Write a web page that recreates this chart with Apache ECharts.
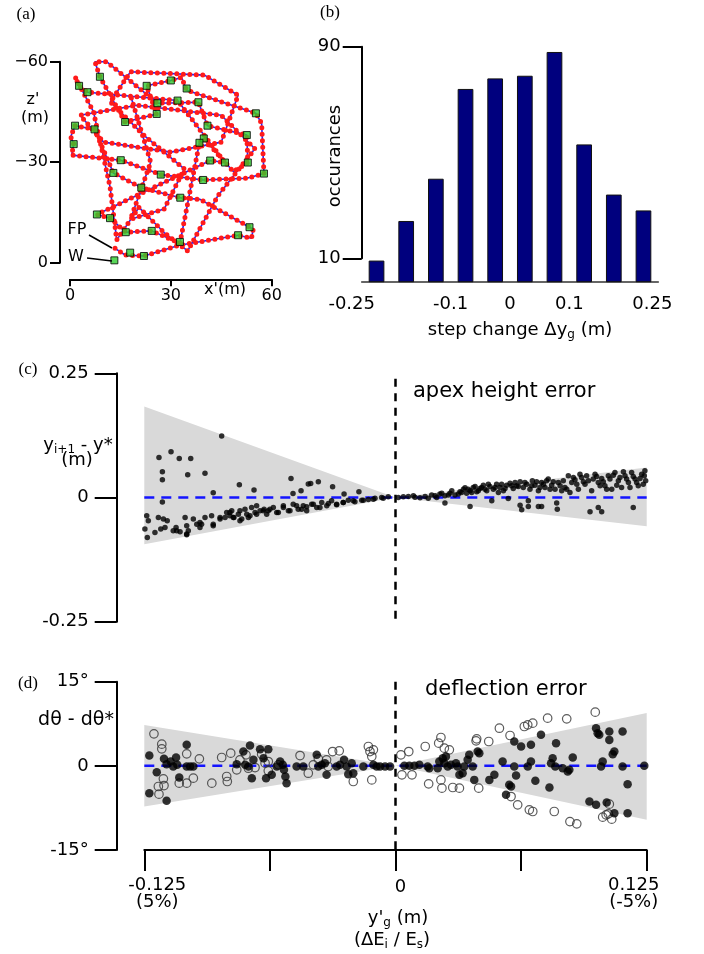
<!DOCTYPE html>
<html><head><meta charset="utf-8">
<script src="https://cdn.jsdelivr.net/npm/echarts@6/dist/echarts.min.js"></script>
<style>html,body{margin:0;padding:0;background:#fff}#c{width:704px;height:954px}</style>
</head><body><div id="c"></div><script>
// ---------- Panel (a): trajectory (x' m, z' m) ----------
const trajectory = [[13.4,-4.3],[16.4,-2.3],[22.0,-2.0],[32.5,-5.2],[50.0,-8.2],[54.0,-7.3],[54.5,-10.0],[53.4,-10.6],[38.7,-18.9],[32.8,-19.4],[21.2,-22.4],[12.9,-26.8],[7.3,-39.8],[1.5,-40.9],[0.2,-37.6],[1.1,-35.4],[0.5,-32.1],[15.1,-30.6],[27.0,-26.3],[39.6,-24.7],[52.6,-25.2],[57.7,-26.6],[57.0,-41.6],[55.3,-44.6],[34.7,-51.5],[33.2,-55.3],[30.0,-54.4],[22.8,-52.8],[25.8,-44.4],[16.4,-42.0],[8.9,-55.5],[7.4,-60.0],[10.9,-60.0],[26.0,-47.6],[38.2,-47.9],[40.9,-40.9],[52.6,-38.1],[52.9,-29.9],[48.6,-27.2],[39.8,-37.1],[38.5,-35.8],[32.7,-5.8],[24.3,-9.5],[16.6,-9.1],[11.9,-13.3],[8.0,-14.4],[41.7,-30.5],[46.1,-29.9],[32.0,-48.4],[5.2,-50.9],[2.7,-52.8],[1.5,-55.5],[7.0,-45.0],[11.9,-22.7],[13.9,-6.8],[20.5,-16.5],[28.0,-9.0],[35.0,-3.5],[44.0,-20.0],[55.0,-34.0],[45.0,-44.0],[20.0,-47.0],[3.0,-44.0],[10.0,-36.0],[30.0,-33.0],[45.0,-36.0],[50.0,-50.0],[40.0,-56.0],[18.0,-57.0],[12.0,-48.0],[22.0,-38.0],[34.0,-28.0],[28.0,-16.0],[18.0,-13.0],[24.0,-30.0],[18.0,-50.0]];
const waypoints = [[8.9,-55.5],[2.7,-52.8],[5.2,-50.9],[22.8,-52.8],[30.0,-54.4],[34.7,-52.0],[32.0,-48.4],[26.0,-47.6],[38.2,-47.9],[25.8,-44.4],[55.3,-44.6],[16.4,-42.0],[1.5,-40.9],[7.3,-39.8],[40.9,-40.9],[52.6,-38.1],[39.8,-37.1],[38.5,-35.8],[1.1,-35.4],[41.7,-30.5],[46.1,-29.9],[15.1,-30.6],[52.9,-29.9],[12.9,-26.8],[27.0,-26.3],[57.7,-26.6],[39.6,-24.7],[21.2,-22.4],[32.8,-19.4],[8.0,-14.4],[11.9,-13.3],[53.4,-10.6],[16.6,-9.1],[24.3,-9.5],[50.0,-8.2],[32.7,-6.2],[17.9,-3.0],[22.0,-2.0],[13.2,-0.7]];
const fpArrow = [[5.65,-8.27],[12.49,-4.39]];
const wArrow = [[5.06,-1.40],[12.49,-0.51]];

// ---------- Panel (b): histogram ----------
const binCenters = [-0.225,-0.175,-0.125,-0.075,-0.025,0.025,0.075,0.125,0.175,0.225];
const counts = [9,24,40,74,78,79,88,53,34,28];
const histTicks = [-0.25,-0.1,0,0.1,0.25];

// ---------- Panel (c): apex height error ----------
const fanC = [[-0.125,0.183],[0,0],[0.125,0.0604],[0.125,-0.058],[0,0],[-0.125,-0.094]];
const apexLeftUpper = [[-0.0865,0.124],[-0.1177,0.0805],[-0.1117,0.092],[-0.1076,0.0785],[-0.1019,0.0785],[-0.116,0.052],[-0.116,0.0356],[-0.1034,0.0457],[-0.0948,0.049],[-0.0777,0.0256],[-0.0704,0.0149],[-0.0907,0.0095],[-0.116,-0.0093],[-0.052,0.038],[-0.047,0.0135],[-0.0434,0.027],[-0.0422,0.028],[-0.0384,0.0316],[-0.0313,0.0215],[-0.0182,0.0115],[-0.051,0.008],[-0.0256,0.007]];
const apexLeftLower = [[-0.1238,-0.0368],[-0.123,-0.0469],[-0.1247,-0.0636],[-0.1235,-0.0805],[-0.1197,-0.0704],[-0.118,-0.0403],[-0.1155,-0.0435],[-0.1136,-0.0469],[-0.1147,-0.0604],[-0.1168,-0.0636],[-0.1106,-0.067],[-0.1092,-0.0604],[-0.1072,-0.069],[-0.1047,-0.0403],[-0.1039,-0.057],[-0.1031,-0.067],[-0.1039,-0.075],[-0.1006,-0.0435],[-0.0989,-0.0536],[-0.0973,-0.0604],[-0.0948,-0.0403],[-0.0965,-0.0536],[-0.0915,-0.0368],[-0.0907,-0.057],[-0.0873,-0.0435],[-0.0848,-0.0403],[-0.084,-0.0302],[-0.0824,-0.0368],[-0.0815,-0.0268],[-0.0804,-0.0403],[-0.0782,-0.0335],[-0.0774,-0.0268],[-0.0765,-0.0435],[-0.0749,-0.0234],[-0.074,-0.0335],[-0.0724,-0.0368],[-0.0716,-0.0201],[-0.0699,-0.0302],[-0.0691,-0.0167],[-0.0674,-0.0268],[-0.0654,-0.0234],[-0.0641,-0.0335],
[-0.1039,-0.0737],[-0.1089,-0.067],[-0.0973,-0.0503],[-0.0907,-0.0536],[-0.0873,-0.0403],
[-0.0824,-0.0302],[-0.0807,-0.0403],[-0.0774,-0.0469],[-0.0732,-0.0403],[-0.0691,-0.0335],[-0.0658,-0.0268],[-0.0625,-0.0234],[-0.0591,-0.0302],[-0.0558,-0.0201],[-0.0525,-0.0268],[-0.0492,-0.0167],[-0.0467,-0.0234],[-0.0442,-0.0187],[-0.0409,-0.0134],[-0.0376,-0.0201],[-0.0334,-0.012],[-0.0293,-0.0147],[-0.026,-0.0101],[-0.021,-0.0067],[-0.016,-0.0053],[-0.011,-0.0033],[-0.0061,-0.0013],
[-0.0633,-0.0268],[-0.0608,-0.0201],[-0.0583,-0.0302],[-0.0558,-0.0167],[-0.0533,-0.0268],[-0.0509,-0.0134],[-0.0484,-0.0234],[-0.0459,-0.0167],[-0.0442,-0.0268],[-0.0417,-0.0134],[-0.0392,-0.0201],[-0.0367,-0.0101],[-0.0342,-0.0167],[-0.0318,-0.0067],[-0.0293,-0.0134],[-0.026,-0.0101],[-0.0235,-0.0053],[-0.0202,-0.0087],[-0.0168,-0.0053],[-0.0135,-0.004],[-0.0102,-0.0013],[-0.0069,0],[-0.0036,0.0013]];
const apexRight = [[0.0014,0.0001],[0.0039,0.0014],[0.0064,0.0021],[0.0089,0.0034],[0.0147,0.0021],[0.0163,-0.0013],[0.018,0.0048],[0.0205,0.0001],[0.0221,0.0068],[0.0246,0.0034],[0.0271,0.0088],[0.0296,0.0048],[0.0321,0.0115],[0.0338,0.0168],[0.0354,0.0088],[0.0371,0.0135],[0.0387,0.0202],[0.0404,0.0115],[0.042,0.0182],[0.0437,0.0249],[0.0454,0.0135],[0.047,0.0222],[0.0487,0.0168],[0.0503,0.0269],[0.052,0.0202],[0.0537,0.0135],[0.0553,0.0249],[0.057,0.0289],[0.0586,0.0182],[0.0603,0.0236],[0.062,0.0316],[0.0636,0.0202],[0.0653,0.0269],[0.0669,0.0168],[0.0681,0.0336],[0.0694,0.0249],[0.0711,0.0135],[0.0727,0.0303],[0.0744,0.0202],[0.076,0.037],[0.0777,0.0249],[0.0794,0.0168],[0.081,0.0303],[0.0827,0.0135],[0.0843,0.0202],[0.086,0.0437],[0.0877,0.0303],[0.0893,0.0356],[0.091,0.0168],[0.0926,0.0403],[0.0943,0.0269],[0.096,0.0336],[0.0976,0.0135],[0.0993,0.047],[0.1009,0.0303],[0.1026,0.0383],[0.1042,0.0236],[0.1059,0.0437],[0.1076,0.0168],[0.1092,0.0504],[0.1109,0.0336],[0.1125,0.0202],[0.1142,0.0437],[0.1159,0.0303],[0.1175,0.0504],[0.1192,0.037],[0.1208,0.0236],[0.1225,0.047],[0.1241,0.0537],[0.1245,0.0336],[0.1233,0.0269],
[0.0097,0.0007],[0.0122,-0.0006],[0.0197,0.0034],[0.023,0.0088],[0.0263,0.0048],[0.028,0.0135],[0.0313,0.0068],[0.0329,0.0101],[0.0346,0.0195],[0.0362,0.0168],[0.0379,0.0101],[0.0396,0.0222],[0.0412,0.0135],[0.0429,0.0202],[0.0445,0.0168],[0.0462,0.0269],[0.0495,0.0202],[0.0512,0.0101],[0.0528,0.0269],[0.0545,0.0182],[0.0578,0.0236],[0.0595,0.0303],[0.0611,0.0222],[0.0644,0.0303],[0.0678,0.0236],[0.0702,0.0316],[0.0719,0.0202],[0.0736,0.0269],[0.0752,0.0336],[0.0769,0.0168],[0.0785,0.0316],[0.0819,0.0236],[0.0835,0.0336],[0.0852,0.0168],[0.0885,0.0403],[0.0902,0.0269],[0.0918,0.047],[0.0935,0.0316],[0.0951,0.0437],[0.0984,0.037],[0.1001,0.0423],[0.1018,0.0236],[0.1034,0.0316],[0.1051,0.0168],[0.1067,0.037],[0.1084,0.045],[0.1101,0.0249],[0.1117,0.0403],[0.1134,0.0517],[0.115,0.037],[0.1167,0.0202],[0.1183,0.0423],[0.12,0.0303],[0.1217,0.0383],[0.1238,0.0437],
[0.0246,-0.0113],[0.0371,-0.018],[0.0479,-0.0066],[0.062,-0.0154],[0.0628,-0.0248],[0.0661,-0.018],[0.0711,-0.018],[0.0727,-0.018],[0.0802,-0.0113],[0.0805,-0.0234],[0.0968,-0.0288],[0.1009,-0.0201],[0.1026,-0.0288],[0.1183,-0.0201],[0.0561,-0.002],[0.0661,-0.0066],[0.0868,0.0101]];

// ---------- Panel (d): deflection error (degrees) ----------
const fanD = [[-0.125,7.3],[0,0],[0.125,9.4],[0.125,-9.6],[0,0],[-0.125,-7.25]];
const deflFilled = [[-0.1225,1.84],[-0.1225,-4.87],[-0.1188,-1.13],[-0.1139,-6.24],[-0.1152,1.25],[-0.1139,0.30],[-0.1119,0.77],[-0.1106,-0.12],[-0.1092,1.49],[-0.1086,0.18],[-0.1039,3.74],[-0.1076,-2.08],[-0.1039,-0.12],[-0.1022,-0.12],[-0.1006,-0.12],[-0.0757,2.55],[-0.0724,3.62],[-0.0707,1.07],[-0.079,0.30],[-0.0748,0.18],[-0.0732,-0.12],[-0.0715,-2.20],[-0.0674,2.97],[-0.0633,2.97],[-0.0657,1.37],[-0.0644,-2.20],[-0.0616,-1.60],[-0.0574,0.77],[-0.0561,0.18],[-0.0555,-0.71],[-0.0548,-1.90],[-0.0542,-3.09],[-0.0591,-0.12],[-0.0492,-0.12],[-0.0459,-0.12],[-0.0392,1.96],[-0.0384,-0.12],[-0.0367,0.18],[-0.0351,0.48],[-0.0343,-1.60],[-0.0293,-0.12],[-0.0276,0.18],[-0.0256,1.07],[-0.0243,-0.12],[-0.0235,-1.49],[-0.0218,0.48],[-0.021,-1.31],[-0.016,-0.12],[-0.011,0.18],[-0.0094,-0.12],[-0.0077,-0.12],[-0.0052,-0.12],[-0.0027,-0.12],
[0.0044,0],[0.0069,0],[0.0094,0],[0.0119,0.18],[0.016,-0.12],[0.0168,-0.42],[0.021,-0.42],[0.0218,0.77],[0.0235,1.37],[0.0243,0.48],[0.0251,1.66],[0.026,-0.12],[0.0276,0.18],[0.0301,0.48],[0.0309,-0.12],[0.0318,-1.60],[0.0334,-1.31],[0.0342,-0.12],[0.0359,1.07],[0.0367,1.96],[0.0384,-0.12],[0.0392,-2.50],[0.0409,2.55],[0.0417,2.26],[0.0467,-2.50],[0.0492,-1.60],[0.0533,0.77],[0.055,-5.17],[0.0566,-3.39],[0.0575,-3.68],[0.0591,4.34],[0.0591,-0.12],[0.06,-1.72],[0.0625,3.45],[0.0658,-0.12],[0.0674,3.74],[0.0674,0.77],[0.0696,-2.67],[0.0724,5.53],[0.0766,-3.86],[0.0774,0.48],[0.0782,1.37],[0.0795,-0.12],[0.0799,4.04],[0.0832,-0.42],[0.0857,-1.01],[0.0865,-0.71],[0.0882,1.49],[0.0965,-6.36],[0.0998,-6.95],[0.0998,6.71],[0.1006,5.82],[0.1014,5.53],[0.1023,-0.12],[0.1031,0.77],[0.1064,6.12],[0.1064,4.63],[0.1081,2.08],[0.1089,2.55],[0.113,6.12],[0.113,-0.12],[0.1155,-3.27],[0.1238,0],[0.1051,-6.54],[0.1089,-8.44],[0.1155,-8.44]];
const deflOpen = [[-0.1202,5.70],[-0.1163,3.86],[-0.1163,3.03],[-0.1155,-2.32],[-0.118,-3.68],[-0.1152,-3.51],[-0.1177,-5.05],[-0.1076,-3.09],[-0.1039,-3.09],[-0.1006,-2.20],[-0.1039,2.14],[-0.0976,1.25],[-0.0914,-3.09],[-0.0865,1.49],[-0.082,2.26],[-0.084,-1.90],[-0.0837,-2.79],[-0.079,-0.71],[-0.0774,1.07],[-0.0744,1.96],[-0.0732,-0.42],[-0.0699,-0.30],[-0.0666,2.08],[-0.0649,0.48],[-0.0633,0.77],[-0.0633,-0.89],[-0.0583,0.18],[-0.0475,1.84],[-0.0434,-1.31],[-0.0409,0.18],[-0.0384,1.25],[-0.0343,1.07],[-0.0313,2.55],[-0.028,2.67],[-0.0335,-0.12],[-0.021,-2.79],[-0.0135,3.45],[-0.0127,2.55],[-0.011,2.85],[-0.0118,-2.50],[-0.0118,1.66],
[0.0027,1.96],[0.0066,2.55],[0.0032,-1.60],[0.0082,-1.60],[0.0148,3.45],[0.0165,-3.21],[0.0226,5.05],[0.0215,4.04],[0.0243,3.15],[0.0268,2.85],[0.0226,-2.50],[0.0231,-3.98],[0.0285,-3.86],[0.0318,-3.98],[0.0404,4.81],[0.0401,4.46],[0.0464,4.34],[0.0414,-3.98],[0.0517,6.71],[0.057,5.41],[0.0575,-5.47],[0.0608,-6.95],[0.0641,7.01],[0.0658,7.31],[0.0683,7.61],[0.0757,8.50],[0.0852,8.38],[0.0994,9.57],[0.0666,-7.84],[0.0683,-8.14],[0.079,-8.14],[0.1064,-6.83],[0.1048,-8.73],[0.0868,-9.93],[0.0902,-10.34],[0.1031,-9.14],[0.1059,-8.56],[0.1076,-9.5]];

const zeroRef = [[-0.125,0],[0.125,0]];
const vLineC = [[0,0.239],[0,-0.25]];
const vLineD = [[0,15],[0,-15]];

// ---------- chart ----------
const F = 'DejaVu Sans';
const SERIF = 'Liberation Serif';
const blk = {color:'#000', width:2};
const chart = echarts.init(document.getElementById('c'));
const subRich = {sub:{fontSize:12, fontFamily:F, fill:'#000', color:'#000', padding:[9,0,0,0], verticalAlign:'bottom'}};
function txt(text, x, y, size, extra){
  return {type:'text', x:x, y:y, z:100, style:Object.assign({text:text, fontSize:size, fontFamily:F, fill:'#000', align:'center', verticalAlign:'middle'}, extra||{})};
}
const fanRender = pts => (params, api) => ({type:'polygon', shape:{points:pts.map(p => api.coord(p))}, style:{fill:'#d9d9d9'}});

const option = {
  animation:false,
  backgroundColor:'#fff',
  grid:[
    {left:70, top:61.7, width:201.7, height:201, outerBoundsMode:'none'},
    {left:361.7, top:46.7, width:296.6, height:235, outerBoundsMode:'none'},
    {left:361.7, top:46.7, width:296.6, height:211.6, outerBoundsMode:'none'},
    {left:144.3, top:373.3, width:502.4, height:248.4, outerBoundsMode:'none'},
    {left:144.3, top:681.7, width:502.4, height:168.3, outerBoundsMode:'none'}
  ],
  xAxis:[
    {gridIndex:0, type:'value', min:0, max:60, interval:30, position:'bottom', offset:16.6,
      axisLine:{show:true, onZero:false, lineStyle:blk}, axisTick:{show:true, length:7, lineStyle:blk},
      axisLabel:{fontSize:16, fontFamily:F, color:'#000', margin:9, showMinLabel:true, showMaxLabel:true}, splitLine:{show:false}},
    {gridIndex:1, type:'value', min:-0.25, max:0.25, position:'bottom',
      axisLine:{show:true, onZero:false, lineStyle:{color:'#333', width:1.5}}, axisTick:{show:false},
      axisLabel:{customValues:histTicks, fontSize:18, fontFamily:F, color:'#000', margin:14,
        formatter:v => v <= -0.249 ? '{l|-0.25}' : (v >= 0.249 ? '{r|0.25}' : String(v)),
        rich:{l:{fontSize:18, fontFamily:F, color:'#000', padding:[0,20,0,0]}, r:{fontSize:18, fontFamily:F, color:'#000', padding:[0,12,0,0]}}},
      splitLine:{show:false}},
    {gridIndex:2, type:'value', min:0, max:1, show:false},
    {gridIndex:3, type:'value', min:-0.125, max:0.125, show:false},
    {gridIndex:4, type:'value', min:-0.125, max:0.125, interval:0.0625, position:'bottom',
      axisLine:{show:true, onZero:false, lineStyle:blk}, axisTick:{show:true, length:21, lineStyle:blk},
      axisLabel:{fontSize:18, fontFamily:F, color:'#000', margin:27, showMinLabel:true, showMaxLabel:true,
        formatter:v => Math.abs(v+0.125)<1e-6 ? '{l|-0.125}\n{l|(5%)}' : (Math.abs(v-0.125)<1e-6 ? '{r|0.125}\n{r|(-5%)}' : (Math.abs(v)<1e-6 ? '{m|0}' : '')),
        rich:{l:{fontSize:18, fontFamily:F, color:'#000', lineHeight:17, padding:[0,0,0,26]},
              r:{fontSize:18, fontFamily:F, color:'#000', lineHeight:17, padding:[0,26,0,0]},
              m:{fontSize:18, fontFamily:F, color:'#000', lineHeight:17, padding:[4,0,0,10]}}},
      splitLine:{show:false}}
  ],
  yAxis:[
    {gridIndex:0, type:'value', min:-60, max:0, interval:30, inverse:true, offset:10,
      axisLine:{show:true, onZero:false, lineStyle:blk}, axisTick:{show:true, length:10, lineStyle:blk},
      axisLabel:{fontSize:16, fontFamily:F, color:'#000', margin:12, showMinLabel:true, showMaxLabel:true,
        formatter:v => v === 0 ? '0' : '\u2212' + Math.abs(v)}, splitLine:{show:false}},
    {gridIndex:1, type:'value', min:1, max:90, show:false},
    {gridIndex:2, type:'value', min:10, max:90, interval:80,
      axisLine:{show:true, onZero:false, lineStyle:blk}, axisTick:{show:true, length:19, lineStyle:blk},
      axisLabel:{fontSize:18, fontFamily:F, color:'#000', margin:21, showMinLabel:true, showMaxLabel:true}, splitLine:{show:false}},
    {gridIndex:3, type:'value', min:-0.25, max:0.25, interval:0.25, offset:27.6,
      axisLine:{show:true, onZero:false, lineStyle:blk}, axisTick:{show:true, length:22, lineStyle:blk},
      axisLabel:{fontSize:18, fontFamily:F, color:'#000', margin:28, showMinLabel:true, showMaxLabel:true}, splitLine:{show:false}},
    {gridIndex:4, type:'value', min:-15, max:15, interval:15, offset:27.6,
      axisLine:{show:true, onZero:false, lineStyle:blk}, axisTick:{show:true, length:22, lineStyle:blk},
      axisLabel:{fontSize:18, fontFamily:F, color:'#000', margin:28, showMinLabel:true, showMaxLabel:true,
        formatter:v => v === 0 ? '0' : v + '\u00b0'}, splitLine:{show:false}}
  ],
  series:[
    // (a)
    {type:'line', xAxisIndex:0, yAxisIndex:0, data:trajectory, showSymbol:false, clip:false, z:2,
      lineStyle:{color:'#1f1fff', width:1.6}},
    {type:'line', xAxisIndex:0, yAxisIndex:0, data:trajectory, showSymbol:false, clip:false, z:3,
      lineStyle:{color:'#ff1a1a', width:5, type:[0,6.5], cap:'round', join:'round'}},
    {type:'scatter', xAxisIndex:0, yAxisIndex:0, data:waypoints, symbol:'rect', symbolSize:7, z:4,
      itemStyle:{color:'#2ecc2e', borderColor:'#000', borderWidth:1}},
    {type:'line', xAxisIndex:0, yAxisIndex:0, data:fpArrow, showSymbol:false, symbol:['none','arrow'], symbolSize:8, z:5,
      lineStyle:{color:'#000', width:1.5}},
    {type:'line', xAxisIndex:0, yAxisIndex:0, data:wArrow, showSymbol:false, z:5,
      lineStyle:{color:'#000', width:1.5}},
    // (b)
    {type:'bar', xAxisIndex:1, yAxisIndex:1, data:binCenters.map((c,i)=>[c,counts[i]]), barWidth:15.7,
      itemStyle:{color:'#00007e', borderColor:'#111', borderWidth:1}},
    {type:'scatter', xAxisIndex:2, yAxisIndex:2, data:[]},
    // (c)
    {type:'custom', xAxisIndex:3, yAxisIndex:3, data:[[0,0]], renderItem:fanRender(fanC), z:1, silent:true},
    {type:'line', xAxisIndex:3, yAxisIndex:3, data:vLineC, showSymbol:false, z:2,
      lineStyle:{color:'#000', width:2.5, type:[8,6.5]}},
    {type:'line', xAxisIndex:3, yAxisIndex:3, data:zeroRef, showSymbol:false, z:3,
      lineStyle:{color:'#1414ff', width:2.5, type:[10,7]}},
    {type:'scatter', xAxisIndex:3, yAxisIndex:3, data:apexLeftUpper.concat(apexLeftLower, apexRight), symbolSize:5.5, z:4,
      itemStyle:{color:'#000'}},
    // (d)
    {type:'custom', xAxisIndex:4, yAxisIndex:4, data:[[0,0]], renderItem:fanRender(fanD), z:1, silent:true},
    {type:'line', xAxisIndex:4, yAxisIndex:4, data:vLineD, showSymbol:false, z:2,
      lineStyle:{color:'#000', width:2.5, type:[8,6.5]}},
    {type:'line', xAxisIndex:4, yAxisIndex:4, data:zeroRef, showSymbol:false, z:3,
      lineStyle:{color:'#1414ff', width:2.5, type:[10,7]}},
    {type:'scatter', xAxisIndex:4, yAxisIndex:4, data:deflOpen, symbolSize:8.5, z:4,
      itemStyle:{color:'rgba(0,0,0,0)', borderColor:'#333', borderWidth:1.2}},
    {type:'scatter', xAxisIndex:4, yAxisIndex:4, data:deflFilled, symbolSize:8.5, z:5,
      itemStyle:{color:'#000'}}
  ],
  graphic:[
    txt('(a)', 26, 15, 17, {fontFamily:SERIF}),
    txt('(b)', 330, 13, 17, {fontFamily:SERIF}),
    txt('(c)', 28, 370, 17, {fontFamily:SERIF}),
    txt('(d)', 28, 684, 17, {fontFamily:SERIF}),
    txt("z'", 33, 100, 16),
    txt('(m)', 35, 118, 16),
    txt("x'(m)", 225, 290, 16),
    txt('FP', 77, 230, 16),
    txt('W', 76, 257, 16),
    {type:'text', x:335, y:156, rotation:Math.PI/2, z:100, style:{text:'occurances', fontSize:18, fontFamily:F, fill:'#000', align:'center', verticalAlign:'middle'}},
    txt('step change \u0394y{sub|g} (m)', 520, 330, 18, {rich:subRich}),
    txt('y{sub|i+1} - y*', 78, 445, 18, {rich:subRich}),
    txt('(m)', 77, 460, 18),
    txt('apex height error', 413, 392, 21, {align:'left'}),
    txt('d\u03b8 - d\u03b8*', 76, 720, 19),
    txt('deflection error', 425, 690, 21, {align:'left'}),
    txt("y'{sub|g} (m)", 398, 918, 18, {rich:subRich}),
    txt('(\u0394E{sub|i} / E{sub|s})', 392, 940, 18, {rich:subRich})
  ]
};
chart.setOption(option);
</script></body></html>
